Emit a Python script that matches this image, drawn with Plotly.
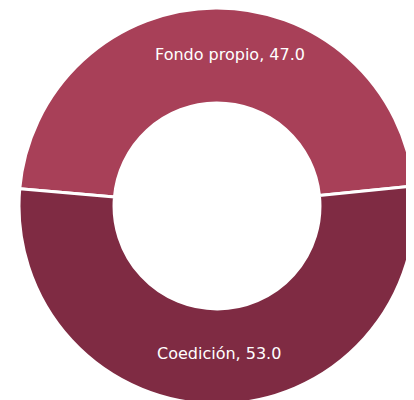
import plotly.graph_objects as go

labels = ["Fondo propio", "Coedición"]
values = [47.0, 53.0]
colors = ["#A84058", "#7F2B43"]

fig = go.Figure()
fig.add_trace(go.Pie(
    labels=labels,
    values=values,
    hole=0.52,
    sort=False,
    direction="clockwise",
    rotation=-85,
    marker=dict(colors=colors, line=dict(color="#FFFFFF", width=3)),
    textinfo="none",
    hoverinfo="label+value",
    domain=dict(x=[11 / 414, 407 / 414], y=[4 / 400, 1]),
    showlegend=False,
))

label_pos = [(222 / 414, 1 - 46 / 400), (210.5 / 414, 1 - 345 / 400)]
for lab, val, (px, py) in zip(labels, values, label_pos):
    fig.add_annotation(
        x=px, y=py, xref="paper", yref="paper",
        text=f"{lab}, {val:.1f}",
        showarrow=False,
        font=dict(family="DejaVu Sans", size=16, color="#FFFFFF"),
        xanchor="center", yanchor="middle",
    )

fig.update_layout(
    width=414, height=400,
    margin=dict(l=0, r=0, t=0, b=0),
    paper_bgcolor="#FFFFFF",
    plot_bgcolor="#FFFFFF",
)

fig.write_html("out.html")
